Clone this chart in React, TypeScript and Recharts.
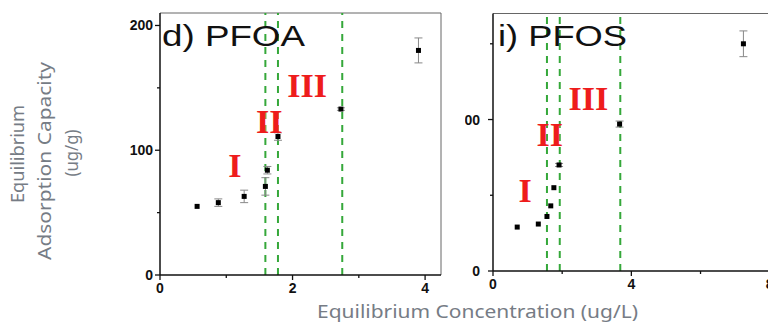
import React from "react";
import { ScatterChart, Scatter, XAxis, YAxis, ErrorBar, ReferenceLine } from "recharts";

// ---- PFOA (panel d) ----
const pfoaX = [0.56, 0.88, 1.27, 1.59, 1.62, 1.78, 2.73, 3.9];
const pfoaY = [55, 58, 63, 71, 84, 111, 133, 180];
const pfoaErr = [0, 3, 5, 7, 3, 3, 1, 10];
const pfoaBoundaries = [1.59, 1.78, 2.75];
const pfoaRegionText = ["I", "II", "III"];
const pfoaRegionX = [1.13, 1.65, 2.22];
const pfoaRegionY = [88, 123, 152];
const pfoaXTicks = [0, 1, 2, 3, 4];
const pfoaXLabeled = [0, 2, 4];
const pfoaYTicks = [0, 50, 100, 150, 200];
const pfoaYLabeled = [0, 100, 200];

// ---- PFOS (panel i) ----
const pfosX = [0.7, 1.31, 1.56, 1.67, 1.76, 1.91, 3.66, 7.24];
const pfosY = [29, 31, 36, 43, 55, 70, 97, 150];
const pfosErr = [0, 0, 0, 0, 0, 1, 2, 8.5];
const pfosBoundaries = [1.56, 1.93, 3.68];
const pfosRegionText = ["I", "II", "III"];
const pfosRegionX = [0.93, 1.64, 2.76];
const pfosRegionY = [53, 90, 114];
const pfosXTicks = [0, 2, 4, 6, 8];
const pfosXLabeled = [0, 4, 8];
const pfosYTicks = [0, 50, 100, 150];
const pfosYLabeled = [0, 100];

const titles = ["d) PFOA", "i) PFOS"];
const xTitle = "Equilibrium Concentration (ug/L)";
const yTitleLines = ["Equilibrium", "Adsorption Capacity", "(ug/g)"];

const GREEN = "#35a83a";
const RED = "#ee1c1c";
const AXIS_FONT = "'Liberation Sans', Arial, sans-serif";
const TITLE_FONT = "'Noto Sans', sans-serif";
const TITLE_COLOR = "#767c85";

const points = (xs: number[], ys: number[], es: number[]) =>
  xs.map((x, i) => ({ x, y: ys[i], err: es[i] }));
const regionPts = (xs: number[], ys: number[], ts: string[]) =>
  xs.map((x, i) => ({ x, y: ys[i], t: ts[i] }));

const SquareDot = (p: any) => (
  <rect x={p.cx - 2.5} y={p.cy - 2.5} width={5} height={5} fill="#000" />
);
const RegionText = (p: any) => (
  <text
    x={p.cx}
    y={p.cy}
    textAnchor="middle"
    dominantBaseline="central"
    fill={RED}
    fontFamily="'Liberation Serif', 'Times New Roman', serif"
    fontWeight="bold"
    fontSize={34}
  >
    {p.payload.t}
  </text>
);

const makeXTick = (labeled: number[]) => (p: any) => {
  const v = p.payload.value;
  const major = labeled.includes(v);
  return (
    <g>
      <line x1={p.x} x2={p.x} y1={p.y} y2={p.y + (major ? 5 : 3)} stroke="#111" strokeWidth={1.3} />
      {major && (
        <text
          x={p.x}
          y={p.y + 13}
          textAnchor="middle"
          dominantBaseline="central"
          fontFamily={AXIS_FONT}
          fontWeight="bold"
          fontSize={14}
          fill="#111"
        >
          {v}
        </text>
      )}
    </g>
  );
};

const makeYTick = (labeled: number[], gap: number) => (p: any) => {
  const v = p.payload.value;
  const major = labeled.includes(v);
  return (
    <g>
      <line x1={p.x} x2={p.x - (major ? 5 : 3)} y1={p.y} y2={p.y} stroke="#111" strokeWidth={1.3} />
      {major && (
        <text
          x={p.x - gap}
          y={p.y}
          textAnchor="end"
          dominantBaseline="central"
          fontFamily={AXIS_FONT}
          fontWeight="bold"
          fontSize={14}
          fill="#111"
        >
          {v}
        </text>
      )}
    </g>
  );
};

export default function App() {
  const pfoaData = points(pfoaX, pfoaY, pfoaErr);
  const pfosData = points(pfosX, pfosY, pfosErr);
  const pfoaLabels = regionPts(pfoaRegionX, pfoaRegionY, pfoaRegionText);
  const pfosLabels = regionPts(pfosRegionX, pfosRegionY, pfosRegionText);

  return (
    <div
      style={{
        position: "absolute",
        left: 0,
        top: 0,
        width: 768,
        height: 327,
        overflow: "hidden",
        background: "#fff",
      }}
    >
      {/* right panel: PFOS */}
      <div style={{ position: "absolute", left: 440, top: 0, zIndex: 1 }}>
        <ScatterChart width={360} height={296} margin={{ top: 13.5, right: 13, bottom: 0, left: 0 }}>
          <XAxis
            type="number"
            dataKey="x"
            domain={[0, 8.5]}
            ticks={pfosXTicks}
            interval={0}
            allowDataOverflow
            height={25}
            tickSize={0}
            tickMargin={0}
            tickLine={false}
            axisLine={{ stroke: "#111", strokeWidth: 1.5 }}
            tick={makeXTick(pfosXLabeled)}
          />
          <YAxis
            type="number"
            dataKey="y"
            domain={[0, 170]}
            ticks={pfosYTicks}
            interval={0}
            allowDataOverflow
            width={53}
            tickSize={0}
            tickMargin={0}
            tickLine={false}
            axisLine={{ stroke: "#111", strokeWidth: 1.5 }}
            tick={makeYTick(pfosYLabeled, 13)}
          />
          <ReferenceLine y={170} stroke="#666" strokeWidth={1} />
          {pfosBoundaries.map((b) => (
            <ReferenceLine key={b} x={b} stroke={GREEN} strokeWidth={2} strokeDasharray="7 6" />
          ))}
          <Scatter data={pfosData} shape={SquareDot} isAnimationActive={false}>
            <ErrorBar dataKey="err" direction="y" width={4} stroke="#888" strokeWidth={1} isAnimationActive={false} />
          </Scatter>
          <Scatter data={pfosLabels} shape={RegionText} isAnimationActive={false} />
        </ScatterChart>
      </div>

      {/* left panel: PFOA */}
      <div
        style={{
          position: "absolute",
          left: 100,
          top: 0,
          width: 365,
          height: 300,
          background: "#fff",
          zIndex: 2,
        }}
      >
        <ScatterChart width={350} height={300} margin={{ top: 13, right: 9, bottom: 0, left: 0 }}>
          <XAxis
            type="number"
            dataKey="x"
            domain={[0, 4.24]}
            ticks={pfoaXTicks}
            interval={0}
            allowDataOverflow
            height={25}
            tickSize={0}
            tickMargin={0}
            tickLine={false}
            axisLine={{ stroke: "#111", strokeWidth: 1.5 }}
            tick={makeXTick(pfoaXLabeled)}
          />
          <YAxis
            type="number"
            dataKey="y"
            domain={[0, 210]}
            ticks={pfoaYTicks}
            interval={0}
            allowDataOverflow
            width={60}
            tickSize={0}
            tickMargin={0}
            tickLine={false}
            axisLine={{ stroke: "#111", strokeWidth: 1.5 }}
            tick={makeYTick(pfoaYLabeled, 7)}
          />
          <ReferenceLine y={210} stroke="#666" strokeWidth={1} />
          <ReferenceLine x={4.24} stroke="#666" strokeWidth={1} />
          {pfoaBoundaries.map((b) => (
            <ReferenceLine key={b} x={b} stroke={GREEN} strokeWidth={2} strokeDasharray="7 6" />
          ))}
          <Scatter data={pfoaData} shape={SquareDot} isAnimationActive={false}>
            <ErrorBar dataKey="err" direction="y" width={4} stroke="#888" strokeWidth={1} isAnimationActive={false} />
          </Scatter>
          <Scatter data={pfoaLabels} shape={RegionText} isAnimationActive={false} />
        </ScatterChart>
      </div>

      {/* overlay: panel titles and axis titles */}
      <svg
        width={768}
        height={327}
        style={{ position: "absolute", left: 0, top: 0, zIndex: 3, pointerEvents: "none" }}
      >
        <text
          x={162}
          y={46}
          fontFamily={AXIS_FONT}
          fontSize={29}
          fill="#111"
          textLength={143}
          lengthAdjust="spacingAndGlyphs"
        >
          {titles[0]}
        </text>
        <text
          x={498}
          y={46}
          fontFamily={AXIS_FONT}
          fontSize={29}
          fill="#111"
          textLength={129}
          lengthAdjust="spacingAndGlyphs"
        >
          {titles[1]}
        </text>
        <text
          x={317}
          y={318}
          fontFamily={TITLE_FONT}
          fontSize={18}
          fill={TITLE_COLOR}
          textLength={321}
          lengthAdjust="spacingAndGlyphs"
        >
          {xTitle}
        </text>
        {yTitleLines.map((line, i) => (
          <text
            key={line}
            transform={`translate(${[24, 51, 78][i]},${[154, 161, 153][i]}) rotate(-90)`}
            textAnchor="middle"
            fontFamily={TITLE_FONT}
            fontSize={18}
            fill={TITLE_COLOR}
            textLength={[98, 198, 47][i]}
            lengthAdjust="spacingAndGlyphs"
          >
            {line}
          </text>
        ))}
      </svg>
    </div>
  );
}
